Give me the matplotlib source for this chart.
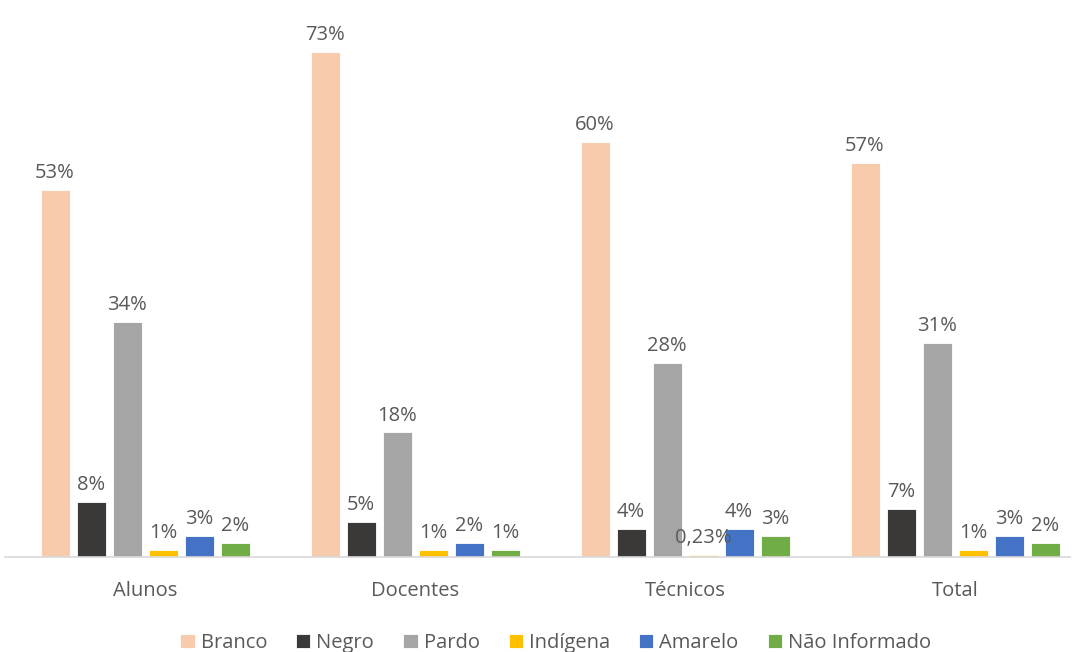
import numpy as np
import matplotlib.pyplot as plt

plt.rcParams['font.family'] = ['Open Sans', 'DejaVu Sans']

groups = ['Alunos', 'Docentes', 'Técnicos', 'Total']
series = ['Branco', 'Negro', 'Pardo', 'Indígena', 'Amarelo', 'Não Informado']
colors = ['#F8CBAD', '#3B3838', '#A5A5A5', '#FFC000', '#4472C4', '#70AD47']

branco = [53, 73, 60, 57]
negro = [8, 5, 4, 7]
pardo = [34, 18, 28, 31]
indigena = [1, 1, 0.23, 1]
amarelo = [3, 2, 4, 3]
nao_informado = [2, 1, 3, 2]
values = [branco, negro, pardo, indigena, amarelo, nao_informado]


def fmt(v):
    if v == int(v):
        return '%d%%' % v
    return ('%.2f%%' % v).replace('.', ',')


fig = plt.figure(figsize=(10.75, 6.52), dpi=100)
ax = fig.add_axes([0.0047, 0.1457, 0.9907, 0.8488])

x = np.arange(len(groups))
pitch = 36 / 270
width = 29 / 270
text_color = '#595959'

for i, (name, vals, c) in enumerate(zip(series, values, colors)):
    pos = x + (i - 2.5) * pitch
    bars = ax.bar(pos, vals, width, color=c, label=name,
                  edgecolor='white', linewidth=0.6)
    for b, v in zip(bars, vals):
        ax.annotate(fmt(v), (b.get_x() + b.get_width() / 2, b.get_height()),
                    xytext=(0, 5), textcoords='offset points',
                    ha='center', va='bottom', fontsize=14.5, color=text_color)

ax.set_xlim(-0.5185, 3.426)
ax.set_ylim(0, 80)
ax.set_xticks(x)
ax.set_xticklabels(groups, fontsize=14.5, color=text_color)
ax.tick_params(axis='x', length=0, pad=17)
ax.set_yticks([])
for s in ['top', 'right', 'left']:
    ax.spines[s].set_visible(False)
ax.spines['bottom'].set_color('#D9D9D9')
ax.spines['bottom'].set_linewidth(1.2)

leg = fig.legend(loc='lower center', bbox_to_anchor=(0.517, -0.03), ncol=6,
                 frameon=False, fontsize=14.5, handlelength=0.7,
                 handleheight=0.7, handletextpad=0.3, columnspacing=1.45)
for t in leg.get_texts():
    t.set_color(text_color)

fig.savefig('out.png', dpi=100)
